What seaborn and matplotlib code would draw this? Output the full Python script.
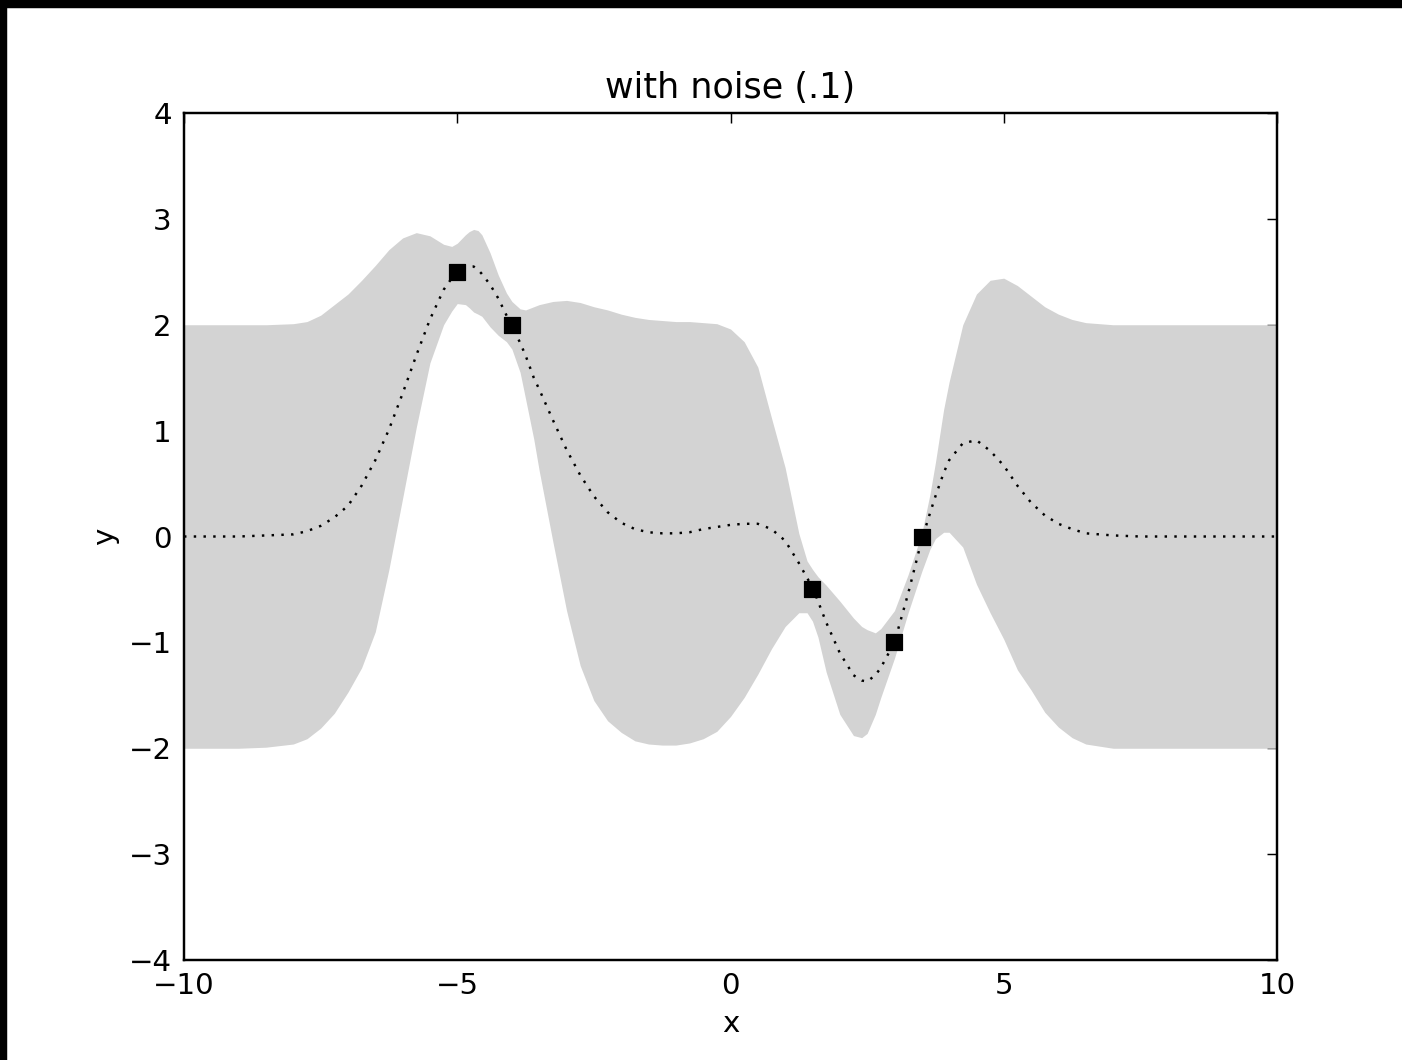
import numpy as np
import matplotlib
matplotlib.use("Agg")
import matplotlib.pyplot as plt
from matplotlib.patches import Rectangle
import seaborn as sns

# values (GP fit, noise .1)
x_grid = [-10, -9, -8.5, -8, -7.75, -7.5, -7.25, -7, -6.75, -6.5, -6.25, -6, -5.75,
          -5.5, -5.25, -5.1, -5, -4.85, -4.78, -4.7, -4.62, -4.55, -4.4, -4.25, -4.1,
          -4, -3.85, -3.75, -3.6, -3.5, -3.25, -3, -2.75, -2.5, -2.25, -2, -1.75,
          -1.5, -1.25, -1, -0.75, -0.5, -0.25, 0, 0.25, 0.5, 0.75, 1, 1.25, 1.4, 1.5,
          1.6, 1.75, 2, 2.25, 2.4, 2.5, 2.65, 2.75, 3, 3.25, 3.5, 3.65, 3.75, 3.9, 4,
          4.25, 4.5, 4.75, 5, 5.25, 5.5, 5.75, 6, 6.25, 6.5, 7, 7.5, 8, 9, 10]

mean_vals = [0, 0, 0.01, 0.02, 0.05, 0.10, 0.18, 0.29, 0.48, 0.72, 1.01, 1.35, 1.71,
             2.05, 2.33, 2.44, 2.49, 2.54, 2.55, 2.55, 2.52, 2.48, 2.38, 2.25, 2.09,
             1.99, 1.83, 1.71, 1.50, 1.39, 1.10, 0.82, 0.58, 0.38, 0.23, 0.13, 0.07,
             0.04, 0.03, 0.03, 0.04, 0.07, 0.09, 0.11, 0.12, 0.12, 0.07, -0.04, -0.25,
             -0.39, -0.48, -0.61, -0.81, -1.10, -1.31, -1.36, -1.37, -1.31, -1.24,
             -1.00, -0.54, -0.03, 0.22, 0.38, 0.60, 0.72, 0.88, 0.91, 0.81, 0.67,
             0.48, 0.32, 0.20, 0.12, 0.07, 0.03, 0.01, 0, 0, 0, 0]

upper_vals = [2.0, 2.0, 2.0, 2.01, 2.03, 2.09, 2.19, 2.29, 2.42, 2.56, 2.71, 2.82, 2.87,
              2.84, 2.76, 2.74, 2.77, 2.85, 2.88, 2.90, 2.89, 2.85, 2.68, 2.47, 2.30,
              2.22, 2.15, 2.14, 2.17, 2.19, 2.22, 2.23, 2.21, 2.17, 2.14, 2.10, 2.07,
              2.05, 2.04, 2.03, 2.03, 2.02, 2.01, 1.96, 1.84, 1.60, 1.12, 0.65, 0.03,
              -0.23, -0.31, -0.38, -0.46, -0.61, -0.77, -0.85, -0.88, -0.91, -0.87,
              -0.70, -0.36, 0.03, 0.40, 0.70, 1.20, 1.46, 2.00, 2.29, 2.42, 2.44,
              2.37, 2.27, 2.17, 2.10, 2.05, 2.02, 2.0, 2.0, 2.0, 2.0, 2.0]

lower_vals = [-2.0, -2.0, -1.99, -1.96, -1.91, -1.81, -1.67, -1.47, -1.24, -0.90, -0.31,
              0.36, 1.03, 1.64, 2.0, 2.13, 2.20, 2.19, 2.16, 2.12, 2.10, 2.08, 1.98,
              1.90, 1.84, 1.77, 1.55, 1.30, 0.92, 0.62, -0.05, -0.70, -1.22, -1.55,
              -1.74, -1.85, -1.93, -1.96, -1.97, -1.97, -1.95, -1.91, -1.84, -1.70,
              -1.52, -1.30, -1.06, -0.85, -0.72, -0.72, -0.80, -0.95, -1.28, -1.68,
              -1.88, -1.90, -1.86, -1.68, -1.52, -1.15, -0.72, -0.33, -0.12, -0.02,
              0.04, 0.04, -0.10, -0.45, -0.72, -0.97, -1.26, -1.45, -1.66, -1.80,
              -1.90, -1.96, -2.0, -2.0, -2.0, -2.0, -2.0]

obs_x = [-5, -4, 1.5, 3, 3.5]
obs_y = [2.5, 2, -0.5, -1, 0]

sns.set_style("white")
plt.rcParams['font.family'] = ['DejaVu Sans']
plt.rcParams['text.color'] = 'black'
plt.rcParams['axes.labelcolor'] = 'black'

fig = plt.figure(figsize=(8, 1060 / 175.25), dpi=175.25)
ax = fig.add_axes([184 / 1402, 1 - 960 / 1060, (1277 - 184) / 1402, (960 - 113) / 1060])

ax.fill_between(x_grid, lower_vals, upper_vals, color='lightgray', linewidth=0)
sns.lineplot(x=x_grid, y=mean_vals, ax=ax, color='black', linewidth=1.0,
             linestyle=(0, (1, 3)))
sns.scatterplot(x=obs_x, y=obs_y, ax=ax, marker='s', s=40, color='black',
                edgecolor='black', linewidth=0.5, zorder=5)

ax.set_xlim(-10, 10)
ax.set_ylim(-4, 4)
ax.set_xticks([-10, -5, 0, 5, 10])
ax.set_yticks(range(-4, 5))
ax.tick_params(direction='in', top=True, right=True, length=4, width=0.6,
               labelsize=12, pad=5, colors='black')
for sp in ax.spines.values():
    sp.set_visible(True)
    sp.set_linewidth(1.0)
    sp.set_color('black')

ax.set_title("with noise (.1)", fontsize=14.4, color='black')
ax.set_xlabel("x", fontsize=12, color='black')
ax.set_ylabel("y", fontsize=12, color='black')

# dark border strips along the top and left edge of the screenshot
fig.patches.append(Rectangle((0, 1 - 7 / 1060), 1, 7 / 1060, transform=fig.transFigure,
                             color='black', zorder=10))
fig.patches.append(Rectangle((0, 0), 6 / 1402, 1, transform=fig.transFigure,
                             color='black', zorder=10))

fig.savefig("out.png", dpi=175.25)
